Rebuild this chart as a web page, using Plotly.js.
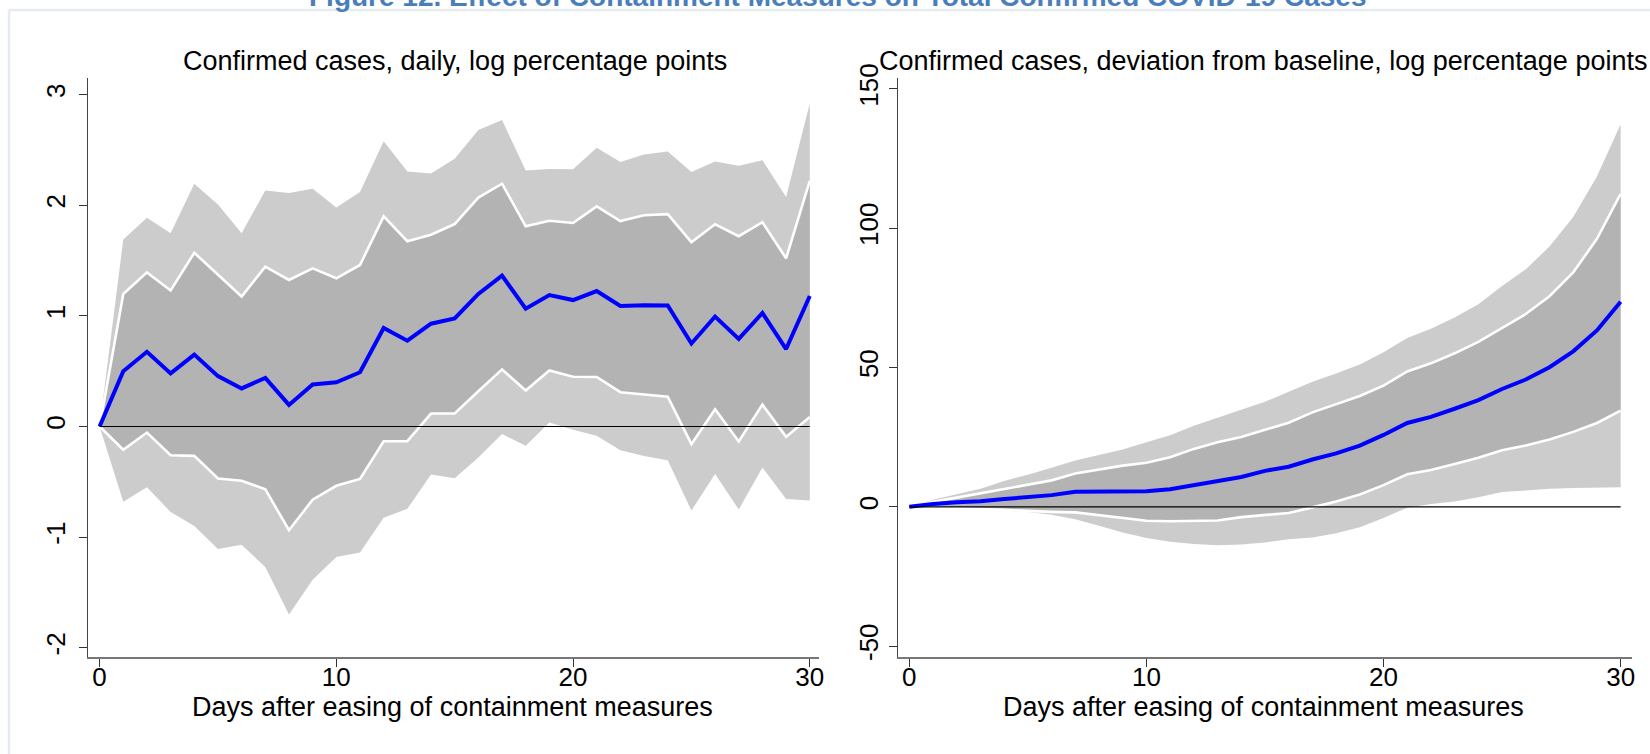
<!DOCTYPE html>
<html>
<head>
<meta charset="utf-8">
<script src="https://cdn.plot.ly/plotly-3.0.1.min.js"></script>
<style>html,body{margin:0;padding:0;background:#fff;}#chart{width:1650px;height:754px;}</style>
</head>
<body>
<div id="chart"></div>
<script>
const days = [0,1,2,3,4,5,6,7,8,9,10,11,12,13,14,15,16,17,18,19,20,21,22,23,24,25,26,27,28,29,30];

// Left panel: daily, log percentage points
const dailyMean = [0,0.50,0.675,0.48,0.65,0.455,0.344,0.44,0.195,0.38,0.40,0.49,0.89,0.776,0.929,0.977,1.198,1.364,1.065,1.188,1.143,1.224,1.09,1.097,1.094,0.75,0.994,0.792,1.026,0.70,1.18];
const dailyUpperInner = [0,1.198,1.393,1.23,1.57,1.37,1.175,1.445,1.325,1.43,1.34,1.46,1.90,1.675,1.734,1.83,2.07,2.195,1.81,1.86,1.84,1.99,1.857,1.91,1.92,1.666,1.828,1.72,1.847,1.52,2.22];
const dailyUpperOuter = [0,1.69,1.886,1.747,2.195,2.006,1.747,2.133,2.11,2.15,1.98,2.12,2.578,2.305,2.286,2.42,2.68,2.77,2.315,2.328,2.325,2.52,2.39,2.46,2.487,2.30,2.396,2.357,2.406,2.075,2.92];
const dailyLowerInner = [0,-0.21,-0.055,-0.26,-0.266,-0.47,-0.49,-0.568,-0.938,-0.662,-0.536,-0.474,-0.133,-0.133,0.117,0.117,0.318,0.516,0.325,0.506,0.45,0.448,0.31,0.29,0.27,-0.16,0.156,-0.136,0.198,-0.094,0.085];
const dailyLowerOuter = [0,-0.68,-0.549,-0.773,-0.9,-1.107,-1.07,-1.27,-1.70,-1.386,-1.18,-1.14,-0.825,-0.744,-0.435,-0.468,-0.28,-0.068,-0.175,0.036,-0.03,-0.084,-0.214,-0.266,-0.305,-0.76,-0.43,-0.75,-0.37,-0.656,-0.67];

// Right panel: deviation from baseline, log percentage points
const cumMean = [0,1.0,1.6,2.0,2.8,3.4,4.2,5.4,5.4,5.6,5.6,6.3,7.8,9.0,10.7,12.9,14.4,17.0,19.2,22.0,25.8,30.1,32.3,35.2,38.3,42.3,45.7,50.1,55.8,63.3,73.6];
const cumUpperInner = [0,1.8,3.3,4.8,6.3,7.8,9.5,12.0,13.5,14.8,15.8,17.8,20.8,23.2,25.1,27.6,30.2,33.9,36.9,39.8,43.5,48.6,51.5,55.1,59.2,64.3,69.2,75.6,84.1,96.2,112.3];
const cumUpperOuter = [0,2.5,4.5,6.5,9.3,11.5,14.0,16.6,18.6,20.6,23.2,25.7,29.1,32.0,34.9,37.7,41.3,44.9,47.9,51.1,55.5,60.6,63.9,68.0,72.7,79.3,85.3,93.4,104.0,118.6,137.3];
const cumLowerInner = [0,-0.2,-0.5,-0.8,-1.1,-1.5,-1.8,-2.0,-3.0,-4.2,-5.0,-5.2,-5.1,-4.9,-3.7,-3.0,-2.2,-0.2,1.9,4.4,7.8,11.7,13.2,15.4,17.6,20.3,22.0,24.2,26.9,30.1,34.5];
const cumLowerOuter = [0,-0.2,-0.4,-0.7,-1.3,-1.9,-2.8,-4.5,-6.8,-9.2,-11.2,-12.5,-13.3,-13.8,-13.5,-12.8,-11.6,-11.0,-9.5,-7.3,-4.0,-0.3,1.0,1.9,3.4,5.3,5.9,6.5,6.8,7.0,7.0];

const xTicks = [0,10,20,30];
const xTickText = ['0','10','20','30'];
const yTicksLeft = [-2,-1,0,1,2,3];
const yTickTextLeft = ['-2','-1','0','1','2','3'];
const yTicksRight = [-50,0,50,100,150];
const yTickTextRight = ['-50','0','50','100','150'];

const figTitle = 'Figure 12. Effect of Containment Measures on Total Confirmed COVID-19 Cases';
const leftTitle = 'Confirmed cases, daily, log percentage points';
const rightTitle = 'Confirmed cases, deviation from baseline, log percentage points';
const xTitle = 'Days after easing of containment measures';

const OUTER = '#cccccc', INNER = '#b3b3b3', BLUE = '#0000ff';

function panel(xa, ya, lo, hi, loIn, hiIn, mean) {
  return [
    {x: days, y: lo, xaxis: xa, yaxis: ya, mode: 'lines', line: {width: 0, color: OUTER}, hoverinfo: 'skip'},
    {x: days, y: hi, xaxis: xa, yaxis: ya, mode: 'lines', line: {width: 0, color: OUTER}, fill: 'tonexty', fillcolor: OUTER, hoverinfo: 'skip'},
    {x: days, y: loIn, xaxis: xa, yaxis: ya, mode: 'lines', line: {width: 0, color: INNER}, hoverinfo: 'skip'},
    {x: days, y: hiIn, xaxis: xa, yaxis: ya, mode: 'lines', line: {width: 0, color: INNER}, fill: 'tonexty', fillcolor: INNER, hoverinfo: 'skip'},
    {x: days, y: loIn, xaxis: xa, yaxis: ya, mode: 'lines', line: {width: 2.6, color: '#ffffff'}, hoverinfo: 'skip'},
    {x: days, y: hiIn, xaxis: xa, yaxis: ya, mode: 'lines', line: {width: 2.6, color: '#ffffff'}, hoverinfo: 'skip'},
    {x: days, y: mean, xaxis: xa, yaxis: ya, mode: 'lines', line: {width: 4, color: BLUE}}
  ];
}

const data = panel('x', 'y', dailyLowerOuter, dailyUpperOuter, dailyLowerInner, dailyUpperInner, dailyMean)
  .concat(panel('x2', 'y2', cumLowerOuter, cumUpperOuter, cumLowerInner, cumUpperInner, cumMean));

const FAM = 'Liberation Sans, Arial, sans-serif';
const tickFont = {family: FAM, size: 26, color: '#000'};
const textFont = {family: FAM, size: 27, color: '#000'};
const W = 1650, H = 754;
const xaxisBase = {
  tickvals: xTicks, ticktext: xTickText, ticks: 'outside', ticklen: 8, tickwidth: 1, tickcolor: '#333',
  showline: true, linecolor: '#777', linewidth: 2, showgrid: false, zeroline: false,
  tickfont: tickFont, fixedrange: true, ticklabelstandoff: -12
};
const yaxisBase = {
  ticks: 'outside', ticklen: 8, tickwidth: 1, tickcolor: '#333', tickangle: -90,
  showline: true, linecolor: '#444', linewidth: 1.5, showgrid: false, zeroline: false,
  tickfont: tickFont, fixedrange: true, domain: [1 - 657 / H, 1 - 77.5 / H]
};

const layout = {
  width: W, height: H,
  margin: {l: 0, r: 0, t: 0, b: 0},
  paper_bgcolor: '#fff', plot_bgcolor: '#fff',
  showlegend: false,
  font: textFont,
  xaxis: Object.assign({}, xaxisBase, {domain: [88 / W, 819 / W], anchor: 'y', range: [-0.49, 30.39]}),
  yaxis: Object.assign({}, yaxisBase, {range: [-2.084, 3.155], tickvals: yTicksLeft, ticktext: yTickTextLeft, anchor: 'x', ticklabelstandoff: 3}),
  xaxis2: Object.assign({}, xaxisBase, {domain: [898 / W, 1632 / W], anchor: 'y2', range: [-0.477, 30.48]}),
  yaxis2: Object.assign({}, yaxisBase, {range: [-53.9, 154.1], tickvals: yTicksRight, ticktext: yTickTextRight, anchor: 'x2', ticklabelstandoff: 0}),
  shapes: [
    {type: 'line', xref: 'x', yref: 'y', x0: days[0], x1: days[days.length - 1], y0: 0, y1: 0, line: {color: '#000', width: 1.2}, layer: 'above'},
    {type: 'line', xref: 'x2', yref: 'y2', x0: days[0], x1: days[days.length - 1], y0: 0, y1: 0, line: {color: '#000', width: 1.2}, layer: 'above'},
    {type: 'line', xref: 'paper', yref: 'paper', x0: 9 / W, x1: 1, y0: 1 - 10 / H, y1: 1 - 10 / H, line: {color: '#e4ecf1', width: 2.5}},
    {type: 'line', xref: 'paper', yref: 'paper', x0: 9 / W, x1: 9 / W, y0: 0, y1: 1 - 10 / H, line: {color: '#e4ecf1', width: 2.5}}
  ],
  annotations: [
    {text: '<b>' + figTitle + '</b>', xref: 'paper', yref: 'paper', x: 837 / W, y: 1 + 3 / H, xanchor: 'center', yanchor: 'middle', showarrow: false, font: {family: FAM, size: 28, color: '#4a7ebb'}},
    {text: leftTitle, xref: 'paper', yref: 'paper', x: 455 / W, y: 1 - 61 / H, xanchor: 'center', yanchor: 'middle', showarrow: false, font: textFont},
    {text: rightTitle, xref: 'paper', yref: 'paper', x: 1263 / W, y: 1 - 61 / H, xanchor: 'center', yanchor: 'middle', showarrow: false, font: textFont},
    {text: xTitle, xref: 'paper', yref: 'paper', x: 452 / W, y: 1 - 707 / H, xanchor: 'center', yanchor: 'middle', showarrow: false, font: textFont},
    {text: xTitle, xref: 'paper', yref: 'paper', x: 1263 / W, y: 1 - 707 / H, xanchor: 'center', yanchor: 'middle', showarrow: false, font: textFont}
  ]
};

Plotly.newPlot('chart', data, layout, {displayModeBar: false, staticPlot: true});
</script>
</body>
</html>
